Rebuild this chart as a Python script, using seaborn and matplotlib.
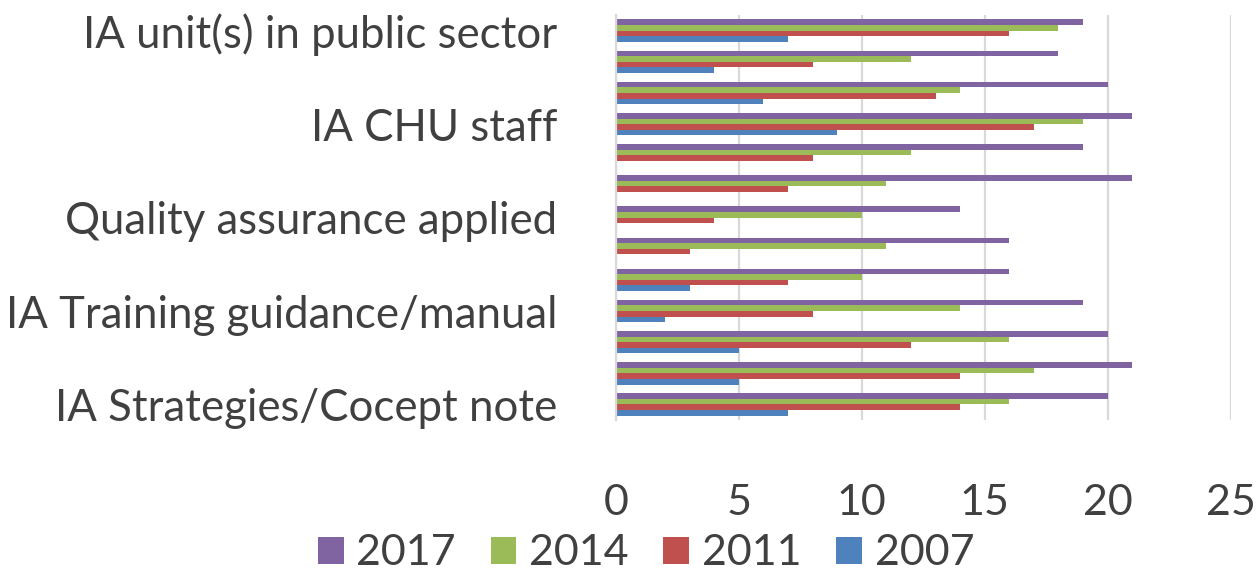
import pandas as pd
import matplotlib.pyplot as plt
import seaborn as sns

# ============================================================
# DATA
# ============================================================

categories = ["IA unit(s) in public sector", "row 2", "row 3",
              "IA CHU staff", "row 5", "row 6",
              "Quality assurance applied", "row 8", "row 9",
              "IA Training guidance/manual", "row 11", "row 12",
              "IA Strategies/Cocept note"]
# only every third category label is shown on the axis
shown_labels = ["IA unit(s) in public sector", "", "",
                "IA CHU staff", "", "",
                "Quality assurance applied", "", "",
                "IA Training guidance/manual", "", "",
                "IA Strategies/Cocept note"]

years = ["2017", "2014", "2011", "2007"]
v2017 = [19, 18, 20, 21, 19, 21, 14, 16, 16, 19, 20, 21, 20]
v2014 = [18, 12, 14, 19, 12, 11, 10, 11, 10, 14, 16, 17, 16]
v2011 = [16, 8, 13, 17, 8, 7, 4, 3, 7, 8, 12, 14, 14]
v2007 = [7, 4, 6, 9, 0, 0, 0, 0, 3, 2, 5, 5, 7]

x_ticks = [0, 5, 10, 15, 20, 25]

colours = {"2017": "#8064A2", "2014": "#9BBB59",
           "2011": "#C0504D", "2007": "#4F81BD"}

# ============================================================
# CHART
# ============================================================

rows = []
for year, vals in zip(years, [v2017, v2014, v2011, v2007]):
    for cat, v in zip(categories, vals):
        rows.append({"category": cat, "year": year, "value": v})
df = pd.DataFrame(rows)

sns.set_theme(style="white")
plt.rcParams['font.family'] = ['Lato', 'DejaVu Sans']

fig = plt.figure(figsize=(12.57, 5.81), dpi=100)
ax = fig.add_axes([0.49, 0.277, 0.489, 0.697])

sns.barplot(data=df, x="value", y="category", hue="year",
            hue_order=years, order=categories, palette=colours,
            orient="h", width=0.72, saturation=1, linewidth=0,
            ax=ax, legend=True)

ax.set_xlim(0, 25)
ax.set_xticks(x_ticks)
ax.set_yticks(range(len(categories)))
ax.set_yticklabels(shown_labels)
ax.set_xlabel("")
ax.set_ylabel("")

ax.grid(axis="x", color="#D9D9D9", linewidth=1.6)
ax.set_axisbelow(True)
for side in ["top", "right", "bottom"]:
    ax.spines[side].set_visible(False)
ax.spines["left"].set_color("#D9D9D9")
ax.spines["left"].set_linewidth(1.6)

ax.tick_params(axis="x", labelsize=31, colors="#404040", pad=46, length=0)
ax.tick_params(axis="y", labelsize=31.5, colors="#404040", pad=42, length=0)

handles, labels = ax.get_legend_handles_labels()
ax.legend_.remove()
fig.legend(handles, labels, loc="lower center", ncol=4,
           bbox_to_anchor=(0.514, -0.052), frameon=False,
           fontsize=31, handlelength=0.6, handleheight=0.6,
           columnspacing=0.8, handletextpad=0.3, labelcolor="#404040")

plt.savefig("out.png", dpi=100)
plt.close()
